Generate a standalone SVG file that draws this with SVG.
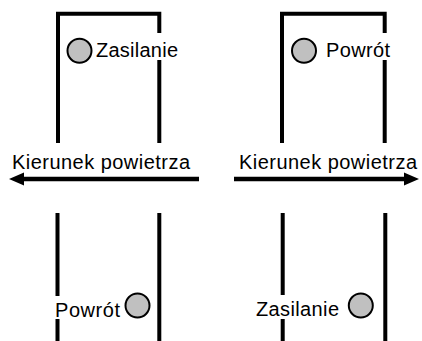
<svg xmlns="http://www.w3.org/2000/svg" width="422" height="341" viewBox="0 0 422 341">
<defs>
<style>
.wall{fill:none;stroke:#000;stroke-width:4;stroke-linecap:butt}
.port{fill:#c0c0c0;stroke:#000;stroke-width:2}
.lbl{font-family:"Liberation Sans",Arial,sans-serif;font-size:20px;fill:#000}
.bg{fill:#fff}
.flow{stroke:#000;stroke-width:4.5;fill:none}
</style>
<marker id="ah" markerUnits="userSpaceOnUse" markerWidth="16" markerHeight="16" viewBox="0 0 16 16" refX="2" refY="8" orient="auto">
<path d="M0,1.5 L15,8 L0,14.5 Z" fill="#000"/>
</marker>
</defs>
<g id="duct-top-left">
<path class="wall" d="M58,143 V13.7 H159.3 V143"/>
<rect class="bg" x="94" y="33" width="86" height="27"/>
<circle class="port" cx="79.5" cy="50.8" r="12"/>
<text class="lbl" x="96" y="57" textLength="82" lengthAdjust="spacing">Zasilanie</text>
</g>
<g id="duct-top-right">
<path class="wall" d="M282,143 V13.7 H384.7 V143"/>
<rect class="bg" x="324" y="33" width="68" height="27"/>
<circle class="port" cx="304" cy="50.8" r="12"/>
<text class="lbl" x="326" y="57" textLength="64" lengthAdjust="spacing">Powrót</text>
</g>
<g id="duct-bottom-left">
<path class="wall" d="M57.5,213 V341 M159.3,213 V341"/>
<rect class="bg" x="54" y="296" width="68" height="23"/>
<circle class="port" cx="137.5" cy="305.5" r="12"/>
<text class="lbl" x="55" y="316.5" textLength="65" lengthAdjust="spacing">Powrót</text>
</g>
<g id="duct-bottom-right">
<path class="wall" d="M282.7,213 V341 M385.3,213 V341"/>
<rect class="bg" x="253" y="295" width="89" height="24"/>
<circle class="port" cx="360.8" cy="305.5" r="12"/>
<text class="lbl" x="256" y="316" textLength="83" lengthAdjust="spacing">Zasilanie</text>
</g>
<g id="connectors">
<line class="flow" x1="199" y1="179" x2="22" y2="179" marker-end="url(#ah)"/>
<line class="flow" x1="234" y1="179" x2="406" y2="179" marker-end="url(#ah)"/>
</g>
<g id="labels-flow">
<text class="lbl" x="12" y="169" textLength="178" lengthAdjust="spacing">Kierunek powietrza</text>
<text class="lbl" x="239" y="169" textLength="178" lengthAdjust="spacing">Kierunek powietrza</text>
</g>
</svg>
